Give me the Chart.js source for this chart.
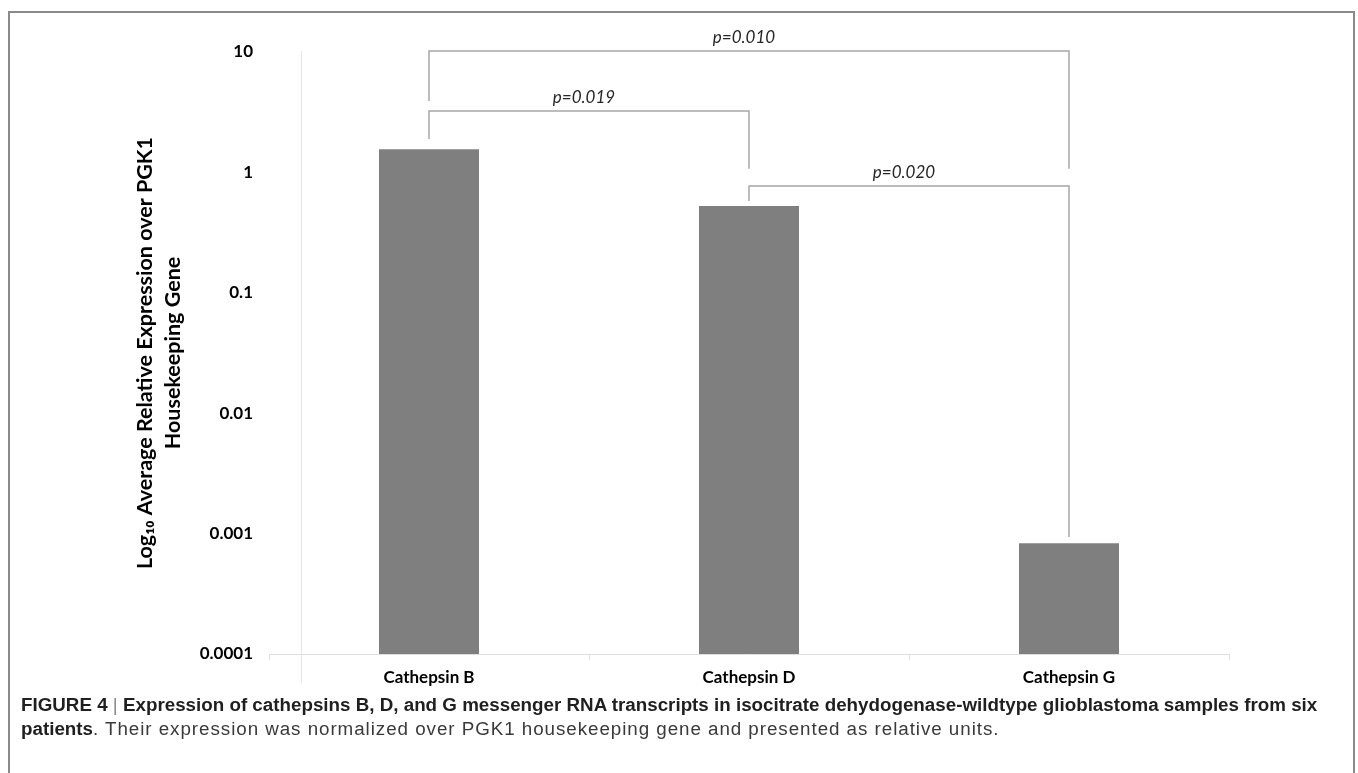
<!DOCTYPE html>
<html>
<head>
<meta charset="utf-8">
<script src="https://cdn.jsdelivr.net/npm/chart.js@4.4.1/dist/chart.umd.min.js"></script>
<style>
  html, body { margin:0; padding:0; background:#fff; width:1358px; height:773px; overflow:hidden; }
  #frame { position:absolute; left:8px; top:11px; width:1347px; height:800px; border:2px solid #8a8a8a; border-bottom:none; box-sizing:border-box; }
  #c { position:absolute; left:0; top:0; }
  #caption { position:absolute; left:21px; top:693px; width:1330px; font-family:"Liberation Sans", Arial, sans-serif; font-size:18.8px; line-height:24px; color:#3a3a3a; white-space:nowrap; }
  #caption b { color:#1f1f1f; letter-spacing:0; }
  #caption .reg { letter-spacing:0.95px; }
  #caption .sep { font-weight:normal; color:#888; }
</style>
</head>
<body>
<div id="frame"></div>
<canvas id="c" width="1358" height="700"></canvas>
<div id="caption"><b>FIGURE 4 <span class="sep">|</span> Expression of cathepsins B, D, and G messenger RNA transcripts in isocitrate dehydogenase-wildtype glioblastoma samples from six</b><br><b>patients</b><span class="reg">. Their expression was normalized over PGK1 housekeeping gene and presented as relative units.</span></div>
<script>
const categories = ['Cathepsin B', 'Cathepsin D', 'Cathepsin G'];
const expression = [1.56, 0.526, 0.000831];
const tickValues = [10, 1, 0.1, 0.01, 0.001, 0.0001];
const tickLabels = ['10', '1', '0.1', '0.01', '0.001', '0.0001'];
const yTitle = ['Log\u2081\u2080 Average Relative Expression over PGK1', 'Housekeeping Gene'];

// significance brackets (category indices, y levels in data units)
const bracketLabels = ['p=0.010', 'p=0.019', 'p=0.020'];
const bracketFrom = [0, 0, 1];
const bracketTo = [2, 1, 2];
const bracketLevel = [10.2, 3.24, 0.771];
const bracketLeftEnd = [3.92, 1.89, 0.579];
const bracketRightEnd = [1.07, 1.07, 0.000937];

const annot = {
  id: 'annot',
  beforeDatasetsDraw(chart) {
    const {ctx, chartArea} = chart;
    ctx.save();
    ctx.strokeStyle = '#e6e6e6';
    ctx.lineWidth = 1;
    const vx = Math.round(chartArea.left + 32) + 0.5;
    ctx.beginPath();
    ctx.moveTo(vx, chartArea.top - 1);
    ctx.lineTo(vx, chartArea.bottom + 29);
    ctx.stroke();
    ctx.restore();
  },
  afterDraw(chart) {
    const {ctx, scales: {x, y}} = chart;
    ctx.save();
    ctx.strokeStyle = '#a6a6a6';
    ctx.lineWidth = 1.5;
    ctx.fillStyle = '#262626';
    ctx.font = 'italic 17px Lato';
    ctx.textAlign = 'center';
    ctx.textBaseline = 'middle';
    for (let i = 0; i < bracketLabels.length; i++) {
      const x1 = x.getPixelForValue(bracketFrom[i]);
      const x2 = x.getPixelForValue(bracketTo[i]);
      const yl = y.getPixelForValue(bracketLevel[i]);
      const y1 = y.getPixelForValue(bracketLeftEnd[i]);
      const y2 = y.getPixelForValue(bracketRightEnd[i]);
      ctx.beginPath();
      ctx.moveTo(x1, y1);
      ctx.lineTo(x1, yl);
      ctx.lineTo(x2, yl);
      ctx.lineTo(x2, y2);
      ctx.stroke();
      ctx.fillText(bracketLabels[i], (x1 + x2) / 2 - 5, yl - 13);
    }
    ctx.restore();
  }
};

new Chart(document.getElementById('c'), {
  type: 'bar',
  data: {
    labels: categories,
    datasets: [{
      data: expression,
      backgroundColor: '#7f7f7f',
      borderWidth: 0,
      categoryPercentage: 0.3125,
      barPercentage: 1
    }]
  },
  options: {
    responsive: false,
    animation: false,
    devicePixelRatio: 1,
    layout: { padding: { left: 0, top: 52, right: 129, bottom: 0 } },
    plugins: { legend: { display: false }, tooltip: { enabled: false } },
    scales: {
      x: {
        grid: { drawOnChartArea: false, drawTicks: true, tickLength: 6, color: '#dedede', offset: true },
        border: { display: true, color: '#dedede', width: 1 },
        ticks: { color: '#000', font: { family: 'Lato', weight: 'bold', size: 17 }, padding: 7 },
        afterFit(s) { s.height = 46; }
      },
      y: {
        type: 'logarithmic',
        min: 0.0001,
        max: 10,
        grid: { display: false },
        border: { display: false },
        afterBuildTicks(s) { s.ticks = tickValues.map(v => ({ value: v })); },
        ticks: {
          color: '#000',
          font: { family: 'Lato', weight: 'bold', size: 17 },
          padding: 8,
          callback(v) { const i = tickValues.indexOf(v); return i >= 0 ? tickLabels[i] : ''; }
        },
        title: {
          display: true,
          text: yTitle,
          color: '#000',
          font: { family: 'Lato', weight: 'bold', size: 21.5, lineHeight: 1.3 },
          padding: { top: 131, bottom: 0 }
        },
        afterFit(s) { s.width = 269; }
      }
    }
  },
  plugins: [annot]
});
</script>
</body>
</html>
